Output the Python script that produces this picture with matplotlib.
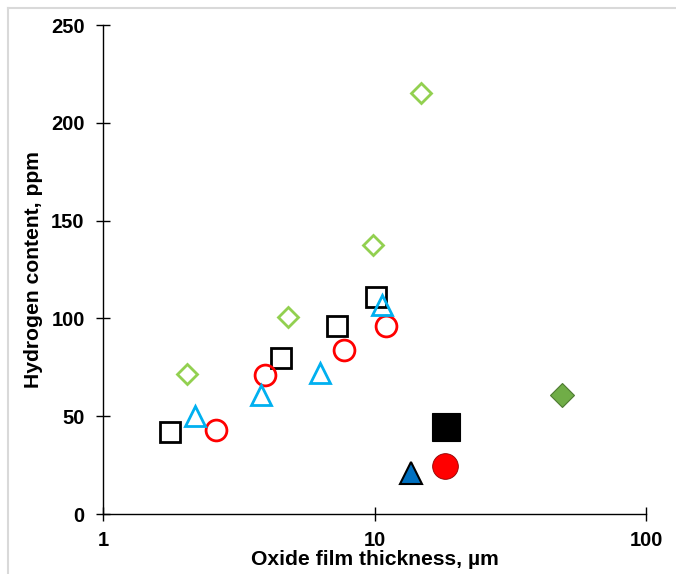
import matplotlib
matplotlib.use("Agg")
import matplotlib.pyplot as plt
from matplotlib.lines import Line2D

plt.rcParams['font.family'] = ['Liberation Sans', 'DejaVu Sans']

# open markers series
sq_x = [1.76, 4.51, 7.26, 10.1]
sq_y = [42, 80, 96, 111]
ci_x = [2.6, 3.94, 7.7, 11.0]
ci_y = [43, 71, 84, 96]
tr_x = [2.17, 3.81, 6.28, 10.6]
tr_y = [50, 61, 72, 107]
di_x = [2.03, 4.8, 9.85, 14.8]
di_y = [71.5, 100.5, 137.5, 215]
# filled markers
fsq_x, fsq_y = [18.3], [44.5]
fci_x, fci_y = [18.2], [24.5]
ftr_x, ftr_y = [13.6], [21]
fdi_x, fdi_y = [49], [61]

xticks = [1, 10, 100]
xticklabels = ['1', '10', '100']
yticks = [0, 50, 100, 150, 200, 250]

fig = plt.figure(figsize=(6.76, 5.74), dpi=100)
ax = fig.add_axes([0.1531, 0.1045, 0.8025, 0.8519])

lw = 2.0
ax.plot(sq_x, sq_y, linestyle='none', marker='s', ms=14.5, mfc='none', mec='black', mew=lw, zorder=3)
ax.plot(ci_x, ci_y, linestyle='none', marker='o', ms=15, mfc='none', mec='#FF0000', mew=lw, zorder=3)
ax.plot(tr_x, tr_y, linestyle='none', marker='^', ms=14.5, mfc='none', mec='#00B0F0', mew=lw, zorder=3)
ax.plot(di_x, di_y, linestyle='none', marker='D', ms=10, mfc='none', mec='#92D050', mew=lw, zorder=3)

ax.plot(fsq_x, fsq_y, linestyle='none', marker='s', ms=19.5, mfc='black', mec='black', mew=0.8, zorder=3)
ax.plot(fci_x, fci_y, linestyle='none', marker='o', ms=18.5, mfc='#FF0000', mec='#8B0000', mew=0.6, zorder=3)
ax.plot(ftr_x, ftr_y, linestyle='none', marker='^', ms=16, mfc='#0070C0', mec='black', mew=1.5, zorder=3)
ax.plot(fdi_x, fdi_y, linestyle='none', marker='D', ms=12.5, mfc='#70AD47', mec='#4E7A32', mew=0.8, zorder=3)

ax.set_xscale('log')
ax.set_xlim(1, 100)
ax.set_ylim(0, 250)
ax.set_xticks(xticks)
ax.set_xticklabels(xticklabels)
ax.xaxis.set_minor_locator(matplotlib.ticker.NullLocator())
ax.set_yticks(yticks)

for s in ['top', 'right']:
    ax.spines[s].set_visible(False)
for s in ['left', 'bottom']:
    ax.spines[s].set_linewidth(1.0)
    ax.spines[s].set_color('black')

ax.tick_params(axis='both', direction='inout', length=10, width=1.0, labelsize=14.5, colors='black')
ax.tick_params(axis='x', pad=7.5)
ax.tick_params(axis='y', pad=8.5)
for lab in ax.get_xticklabels() + ax.get_yticklabels():
    lab.set_fontweight('bold')

ax.set_xlabel('Oxide film thickness, µm', fontsize=15.2, fontweight='bold', labelpad=0)
ax.set_ylabel('Hydrogen content, ppm', fontsize=15.2, fontweight='bold', labelpad=6)

# light gray frame (top & left edges)
H, W = 574, 676
fig.add_artist(Line2D([8 / W, 8 / W], [0, 1 - 8 / H], transform=fig.transFigure, color='#D9D9D9', lw=1.5))
fig.add_artist(Line2D([8 / W, 1], [1 - 8 / H, 1 - 8 / H], transform=fig.transFigure, color='#D9D9D9', lw=1.5))

fig.savefig('out.png', dpi=100)
